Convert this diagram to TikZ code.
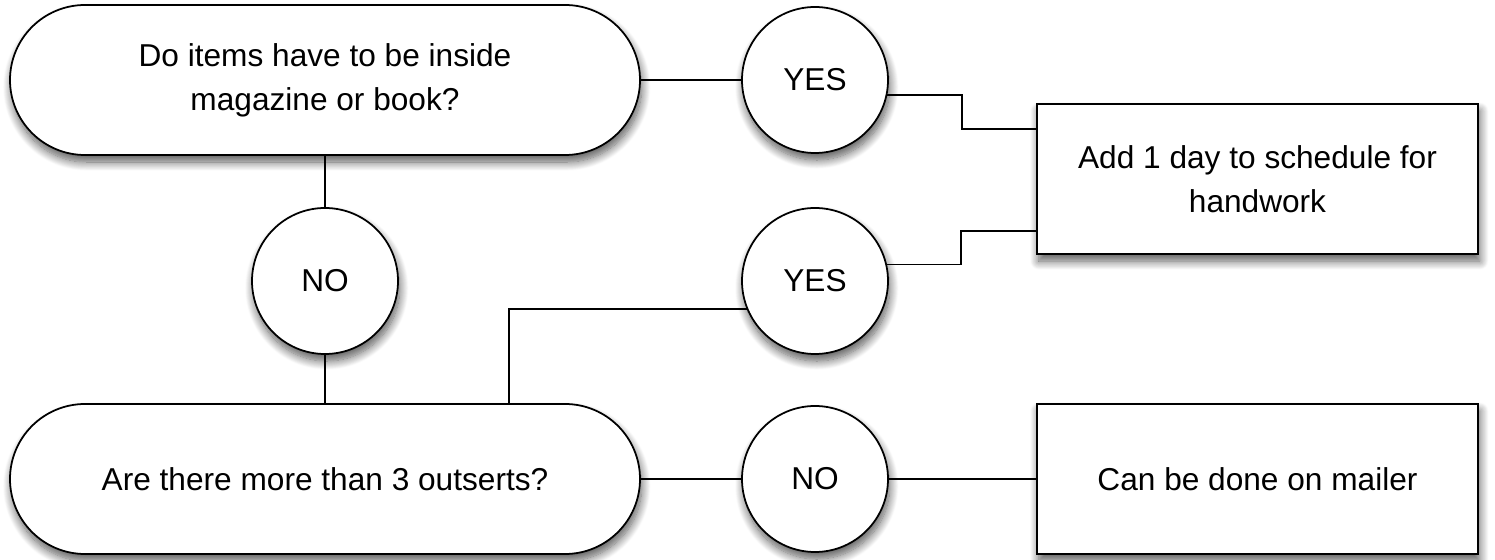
\documentclass[tikz,border=0pt]{standalone}
\usepackage{fontspec}
\setmainfont{Liberation Sans}
\usepackage{tikz}
\usetikzlibrary{shadows.blur}

\tikzset{
  shade/.style={blur shadow={shadow xshift=1pt, shadow yshift=-4pt, shadow blur radius=5pt, shadow blur steps=12, shadow opacity=65}},
  question/.style={draw=black, line width=1pt, fill=white, shade, rounded corners=1.5cm, minimum width=12.6cm, minimum height=3cm, align=center},
  answer/.style={draw=black, line width=1pt, fill=white, shade, circle, minimum size=2.92cm, inner sep=0pt},
  action/.style={draw=black, line width=1pt, fill=white, shade, minimum width=8.82cm, minimum height=3cm, align=center},
  link/.style={line width=1pt}
}

\begin{document}
\begin{tikzpicture}[font=\fontsize{18}{25}\selectfont]
    \useasboundingbox (0,0) rectangle (29.9,11.2);
    %
    \node[question] (q1) at (6.5,9.6) {Do items have to be inside\\magazine or book?};
    \node[question] (q2) at (6.5,1.62) {Are there more than 3 outserts?};
    \node[answer] (no1) at (6.5,5.58) {NO};
    \node[answer] (yes1) at (16.3,9.6) {YES};
    \node[answer] (yes2) at (16.3,5.58) {YES};
    \node[answer] (no2) at (16.3,1.62) {NO};
    \node[action] (act1) at (25.15,7.62) {Add 1 day to schedule for\\handwork};
    \node[action] (act2) at (25.15,1.62) {Can be done on mailer};
    %
    \draw[link] (q1.east) -- (yes1.west);
    \draw[link] (q1.south) -- (no1.north);
    \draw[link] (no1.south) -- (q2.north);
    \draw[link] (q2.east) -- (no2.west);
    \draw[link] (no2.east) -- (act2.west);
    \draw[link] (yes1.-12) -- ++(1.5,0) |- ([yshift=1cm]act1.west);
    \draw[link] (yes2.13) -- ++(1.48,0) |- ([yshift=-1.04cm]act1.west);
    \draw[link] (yes2.202) -| ([xshift=3.68cm]q2.north);
\end{tikzpicture}
\end{document}
